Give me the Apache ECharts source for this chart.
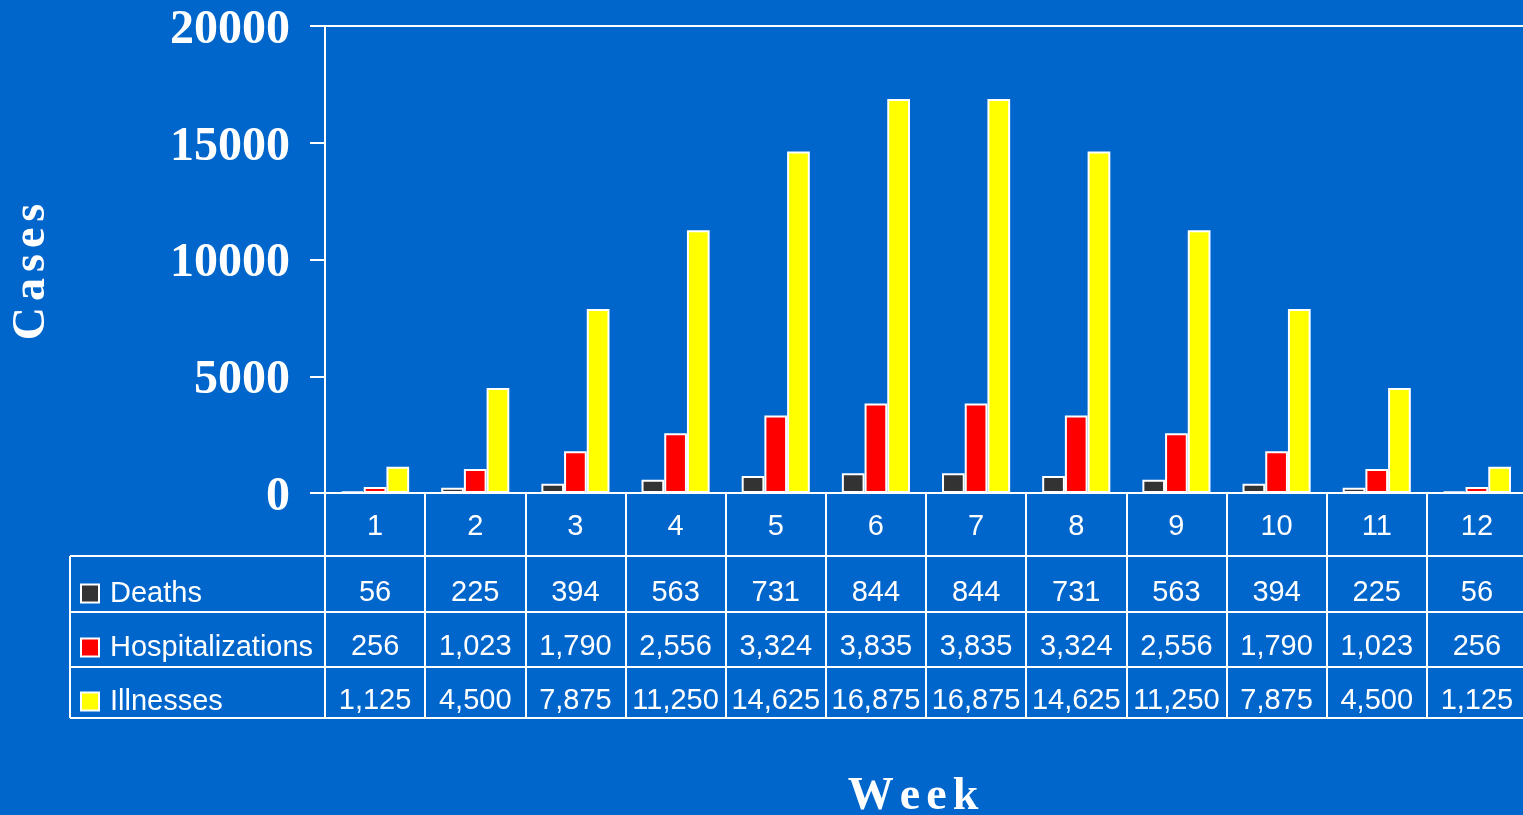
<!DOCTYPE html>
<html>
<head>
<meta charset="utf-8">
<style>
html,body{margin:0;padding:0;background:#0066CC;}
#chart{width:1523px;height:815px;}
</style>
<script src="https://cdn.jsdelivr.net/npm/echarts@6/dist/echarts.min.js"></script>
</head>
<body>
<div id="chart"></div>
<script>
const weeks = ['1','2','3','4','5','6','7','8','9','10','11','12'];
const deaths = [56,225,394,563,731,844,844,731,563,394,225,56];
const hospitalizations = [256,1023,1790,2556,3324,3835,3835,3324,2556,1790,1023,256];
const illnesses = [1125,4500,7875,11250,14625,16875,16875,14625,11250,7875,4500,1125];
const yTicks = [0,5000,10000,15000,20000];
const seriesNames = ['Deaths','Hospitalizations','Illnesses'];
const seriesColors = ['#333333','#FF0000','#FFFF00'];
const yAxisTitle = 'Cases';
const xAxisTitle = 'Week';

const fmt = v => v.toLocaleString('en-US');
const W = 'white';
const serif = 'Liberation Serif, Times New Roman';
const tableFont = {color: W, fontFamily: 'Liberation Sans, Arial', fontSize: 29};
const titleFont = {fill: W, fontFamily: serif, fontWeight: 'bold', fontSize: 46};
// spaced title via rich text (one token per letter, padded)
const spaced = s => s.split('').map(c => '{l|' + c + '}').join('');
const spacedRich = {l: {fill: W, fontFamily: serif, fontWeight: 'bold', fontSize: 46, padding: [0, 3, 0, 3]}};

const chart = echarts.init(document.getElementById('chart'));
const gridL = 325, gridT = 26, gridB = 322, gridW = 1202;
const rowLines = [556, 612, 667, 718];
const tableLeft = 70;

function rowAxis(values, margin) {
  return {
    type: 'category', data: values.map(fmt), position: 'bottom', offset: 0,
    axisLine: {show: false}, axisTick: {show: false}, splitLine: {show: false},
    axisLabel: Object.assign({interval: 0, margin: margin}, tableFont)
  };
}

const option = {
  backgroundColor: '#0066CC',
  animation: false,
  grid: {left: gridL, top: gridT, width: gridW, bottom: gridB, containLabel: false, outerBoundsMode: 'none'},
  legend: {
    orient: 'vertical', left: 80, top: 579, padding: 0, itemGap: 25,
    itemWidth: 18, itemHeight: 18, icon: 'rect',
    data: seriesNames,
    textStyle: Object.assign({padding: [0, 0, 0, 6]}, tableFont),
    selectedMode: false
  },
  xAxis: [
    {
      type: 'category', data: weeks, position: 'bottom',
      axisLine: {show: true, lineStyle: {color: W, width: 2}},
      axisTick: {show: true, length: 225, interval: 0, lineStyle: {color: W, width: 2}},
      axisLabel: Object.assign({interval: 0, margin: 19}, tableFont),
      splitLine: {show: false}
    },
    {
      type: 'category', data: weeks, position: 'top',
      axisLine: {show: true, lineStyle: {color: W, width: 2}},
      axisTick: {show: false}, axisLabel: {show: false}, splitLine: {show: false}
    },
    rowAxis(deaths, 85),
    rowAxis(hospitalizations, 139),
    rowAxis(illnesses, 193)
  ],
  yAxis: {
    type: 'value', min: yTicks[0], max: yTicks[yTicks.length - 1], interval: yTicks[1] - yTicks[0],
    axisLine: {show: true, lineStyle: {color: W, width: 2}},
    axisTick: {show: true, length: 15, lineStyle: {color: W, width: 2}},
    axisLabel: {color: W, fontFamily: serif, fontWeight: 'bold', fontSize: 48, margin: 35,
      formatter: v => '{t|' + String(v) + '}',
      rich: {t: {color: W, fontFamily: serif, fontWeight: 'bold', fontSize: 48, padding: [9, 0, 0, 0]}}},
    splitLine: {show: false}
  },
  series: [deaths, hospitalizations, illnesses].map((d, i) => ({
    name: seriesNames[i], type: 'bar', data: d, xAxisIndex: 0,
    barGap: '0%', barCategoryGap: '32%',
    itemStyle: {color: seriesColors[i], borderColor: W, borderWidth: 2}
  })),
  graphic: [
    ...rowLines.map(y => ({
      type: 'line', shape: {x1: tableLeft, y1: y, x2: 1523, y2: y},
      style: {stroke: W, lineWidth: 2}, silent: true
    })),
    {
      type: 'line', shape: {x1: tableLeft, y1: rowLines[0], x2: tableLeft, y2: rowLines[rowLines.length - 1]},
      style: {stroke: W, lineWidth: 2}, silent: true
    },
    {
      type: 'text', x: 32, y: 272, rotation: Math.PI / 2,
      style: Object.assign({text: spaced(yAxisTitle), rich: spacedRich, align: 'center', verticalAlign: 'middle'}, titleFont)
    },
    {
      type: 'text', x: 913, y: 797,
      style: Object.assign({text: spaced(xAxisTitle), rich: spacedRich, align: 'center', verticalAlign: 'middle'}, titleFont)
    }
  ]
};
chart.setOption(option);
</script>
</body>
</html>
